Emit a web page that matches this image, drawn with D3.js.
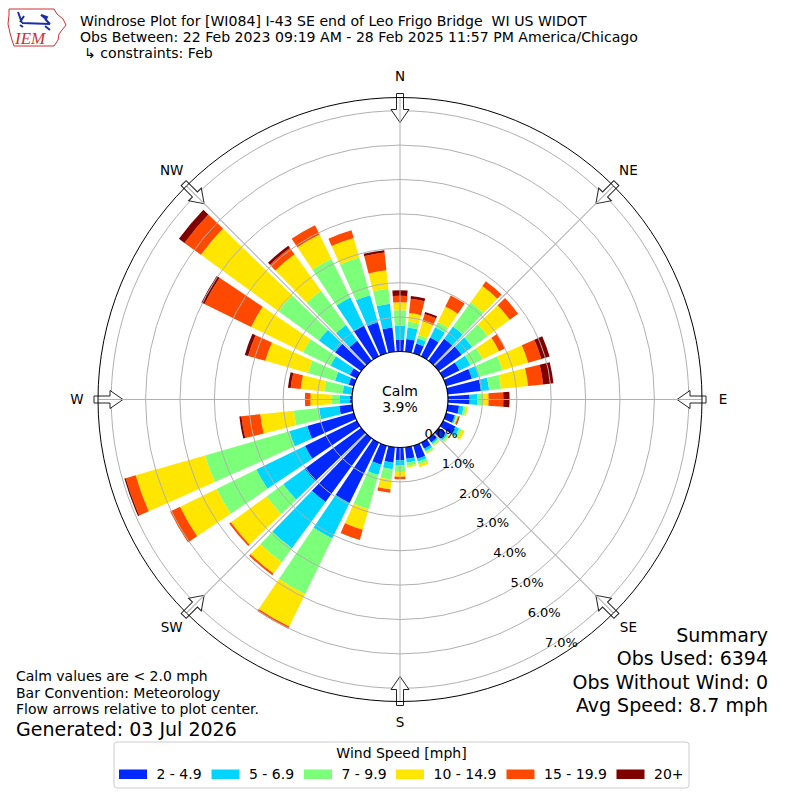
<!DOCTYPE html>
<html><head><meta charset="utf-8">
<script src="https://cdn.jsdelivr.net/npm/d3@7"></script>
<style>html,body{margin:0;padding:0;background:#fff}svg{display:block;font-family:"DejaVu Sans",sans-serif}text{white-space:pre}</style>
</head><body><svg id="c" width="800" height="800"></svg>
<script>
// ---- data (percent of observations) ----
const directions = d3.range(0, 360, 10);
const speedBins = ["2 - 4.9", "5 - 6.9", "7 - 9.9", "10 - 14.9", "15 - 19.9", "20+"];
const binColors = ["#0028ff", "#00d4ff", "#7cff79", "#ffe600", "#ff4800", "#800000"];
const bin2to5 = [0.34,0.37,0.30,0.61,0.79,0.82,0.53,0.78,0.97,0.63,0.33,0.26,0.40,0.25,0.15,0.20,0.40,0.34,
                 0.37,0.45,0.58,1.95,2.29,2.03,1.68,1.41,0.38,0.06,0.03,0.16,0.23,0.94,0.72,1.01,0.94,0.71];
const bin5to7 = [0.41,0.34,0.15,0.33,0.44,0.38,0.35,0.21,0.24,0.23,0.13,0.04,0.12,0.07,0.05,0.08,0.08,0.11,
                 0.14,0.19,0.31,1.15,1.66,0.77,1.57,0.54,0.59,0.29,0.25,0.41,0.62,0.58,0.56,0.89,0.82,0.69];
const bin7to10 = [0.45,0.17,0.10,0.17,0.87,0.55,0.40,0.71,0.35,0.15,0.07,0.03,0.08,0.05,0.05,0.06,0.09,0.09,
                 0.20,0.30,1.03,1.80,0.50,0.60,1.29,2.55,0.74,0.25,0.54,0.82,0.89,1.45,1.23,1.26,1.14,0.44];
const bin10to15 = [0.23,0.25,0.42,0.50,0.58,0.80,0.53,0.78,0.79,0.17,0.05,0.03,0.10,0.03,0.03,0.02,0.08,0.05,
                 0.14,0.29,0.62,1.05,0.41,1.28,1.18,2.10,0.98,0.61,0.69,1.29,1.68,2.79,1.31,0.78,0.59,0.54];
const bin15to20 = [0.19,0.42,0.22,0.36,0.17,0.30,0.20,0.40,0.44,0.43,0.00,0.03,0.00,0.00,0.00,0.00,0.00,0.00,
                 0.07,0.10,0.31,0.07,0.06,0.06,0.32,0.30,0.55,0.16,0.29,0.52,1.51,0.59,0.23,0.30,0.23,0.52];
const bin20plus = [0.16,0.08,0.06,0.00,0.00,0.00,0.00,0.25,0.30,0.18,0.00,0.02,0.00,0.00,0.00,0.00,0.00,0.00,
                 0.00,0.00,0.00,0.00,0.00,0.00,0.00,0.04,0.06,0.00,0.08,0.10,0.10,0.20,0.08,0.00,0.00,0.07];
const series = [bin2to5, bin5to7, bin7to10, bin10to15, bin15to20, bin20plus];
const ringTicks = [0, 1, 2, 3, 4, 5, 6, 7];
const compass = [["N",0],["NE",45],["E",90],["SE",135],["S",180],["SW",225],["W",270],["NW",315]];
const calmPct = "3.9%";
const titleLines = ["Windrose Plot for [WI084] I-43 SE end of Leo Frigo Bridge  WI US WIDOT",
  "Obs Between: 22 Feb 2023 09:19 AM - 28 Feb 2025 11:57 PM America/Chicago",
  "\u21B3 constraints: Feb"];
const noteLines = ["Calm values are < 2.0 mph", "Bar Convention: Meteorology", "Flow arrows relative to plot center."];
const generated = "Generated: 03 Jul 2026";
const summaryLines = ["Summary", "Obs Used: 6394", "Obs Without Wind: 0", "Avg Speed: 8.7 mph"];

// ---- layout ----
const svg = d3.select("#c");
svg.append("rect").attr("width",800).attr("height",800).attr("fill","#fff");
const cx = 400, cy = 399.5, rCalm = 48, rOuter = 302;
const r = d3.scaleLinear().domain([0, 7.384]).range([rCalm, rOuter]);
const rad = d => d * Math.PI / 180;
const g = svg.append("g").attr("transform", `translate(${cx},${cy})`);

// bars
const barW = 8;
const arc = d3.arc();
directions.forEach((dir, i) => {
  let cum = 0;
  series.forEach((s, k) => {
    const v = s[i];
    if (v <= 0) return;
    const a = cum, b = cum + v; cum = b;
    g.append("path")
      .attr("d", arc({innerRadius: r(a), outerRadius: r(b), startAngle: rad(dir - barW/2), endAngle: rad(dir + barW/2)}))
      .attr("fill", binColors[k]);
  });
});

// rings
g.selectAll("circle.ring").data(ringTicks.filter(t => t > 0)).join("circle")
  .attr("r", d => r(d)).attr("fill","none").attr("stroke","#b0b0b0").attr("stroke-width",1);

// compass arrows
const arrowPts = [[0,-3.5],[16,-3.5],[16,-9],[29,0],[16,9],[16,3.5],[0,3.5]];
compass.forEach(([lab, ang]) => {
  const pts = arrowPts.map(([u,w]) => [w, -(rOuter + 4) + u]);
  g.append("path").attr("transform", `rotate(${ang})`)
    .attr("d", d3.line()(pts) + "Z").attr("fill","#fff").attr("stroke","#222").attr("stroke-width",1);
});
// radial grid lines
compass.forEach(([lab, ang]) => {
  g.append("line").attr("transform", `rotate(${ang})`)
    .attr("x1",0).attr("y1",-rCalm).attr("x2",0).attr("y2",-rOuter)
    .attr("stroke","#b0b0b0").attr("stroke-width",1);
});
// outer circle
g.append("circle").attr("r", rOuter).attr("fill","none").attr("stroke","#000").attr("stroke-width",1);
// calm circle
g.append("circle").attr("r", rCalm).attr("fill","#fff").attr("stroke","#000").attr("stroke-width",1.2);
g.append("text").attr("x",0).attr("y",-8).attr("text-anchor","middle").attr("dominant-baseline","middle")
  .attr("font-size",14).text("Calm");
g.append("text").attr("x",0).attr("y",8).attr("text-anchor","middle").attr("dominant-baseline","middle")
  .attr("font-size",14).text(calmPct);

// compass labels
compass.forEach(([lab, ang]) => {
  const rr = 323;
  g.append("text").attr("x", rr*Math.sin(rad(ang))).attr("y", -rr*Math.cos(rad(ang)))
    .attr("text-anchor","middle").attr("dominant-baseline","middle").attr("font-size",13.5).text(lab);
});

// ring labels
ringTicks.forEach(t => {
  const rr = r(t);
  g.append("text").attr("x", rr*Math.sin(rad(150)) + 17).attr("y", -rr*Math.cos(rad(150)) - 6.5)
    .attr("text-anchor","middle").attr("dominant-baseline","middle").attr("font-size",13)
    .text(t.toFixed(1) + "%");
});

// title
const ty = [26, 42, 58];
titleLines.forEach((t, i) => {
  svg.append("text").attr("x", i === 2 ? 84 : 80).attr("y", ty[i]).attr("font-size",14.1).text(t);
});

// logo
const logo = svg.append("g");
logo.append("path").attr("d","M9,9 L54,9 L57,14 L63,19 L66,25 L62,30 L59,34 L58,40 L54,46 L14,46 L12,40 L10,33 L8,24 L9,15 Z")
  .attr("fill","none").attr("stroke","#d03030").attr("stroke-width",1);
logo.append("path").attr("d","M22,23 L50,24 M45,19 L50,24 M18,12 L22,23 M24,16 L20,22")
  .attr("stroke","#1a2ea8").attr("stroke-width",2).attr("fill","none");
logo.append("path").attr("d","M41,15 L47,17 L46,19 Z M45,26 L50,30 M20,25 L23,27")
  .attr("stroke","#1a2ea8").attr("stroke-width",2).attr("fill","#1a2ea8");
logo.append("text").attr("x",15).attr("y",44).attr("font-family","Liberation Serif, serif").attr("font-style","italic")
  .attr("font-size",17).attr("fill","#d03030").text("IEM");

// notes
noteLines.forEach((t, i) => {
  svg.append("text").attr("x",16).attr("y",[681,697.5,714][i]).attr("font-size",14).text(t);
});
svg.append("text").attr("x",16).attr("y",736).attr("font-size",19).text(generated);

// summary
summaryLines.forEach((t, i) => {
  svg.append("text").attr("x",768).attr("y",[642,665,688.5,712][i]).attr("text-anchor","end").attr("font-size",19).text(t);
});

// legend
const lg = svg.append("g");
lg.append("rect").attr("x",114).attr("y",742).attr("width",575).attr("height",46).attr("rx",3)
  .attr("fill","#fff").attr("stroke","#cccccc").attr("stroke-width",1);
lg.append("text").attr("x",401.5).attr("y",753.5).attr("text-anchor","middle").attr("dominant-baseline","middle")
  .attr("font-size",14).text("Wind Speed [mph]");
const lx = [119, 211.5, 304, 396, 506.5, 616.5];
speedBins.forEach((lab, k) => {
  lg.append("rect").attr("x", lx[k]).attr("y",769.5).attr("width",28).attr("height",9.5).attr("fill",binColors[k]);
  lg.append("text").attr("x", lx[k] + 37.5).attr("y",774.5).attr("dominant-baseline","middle").attr("font-size",14).text(lab);
});
</script></body></html>
